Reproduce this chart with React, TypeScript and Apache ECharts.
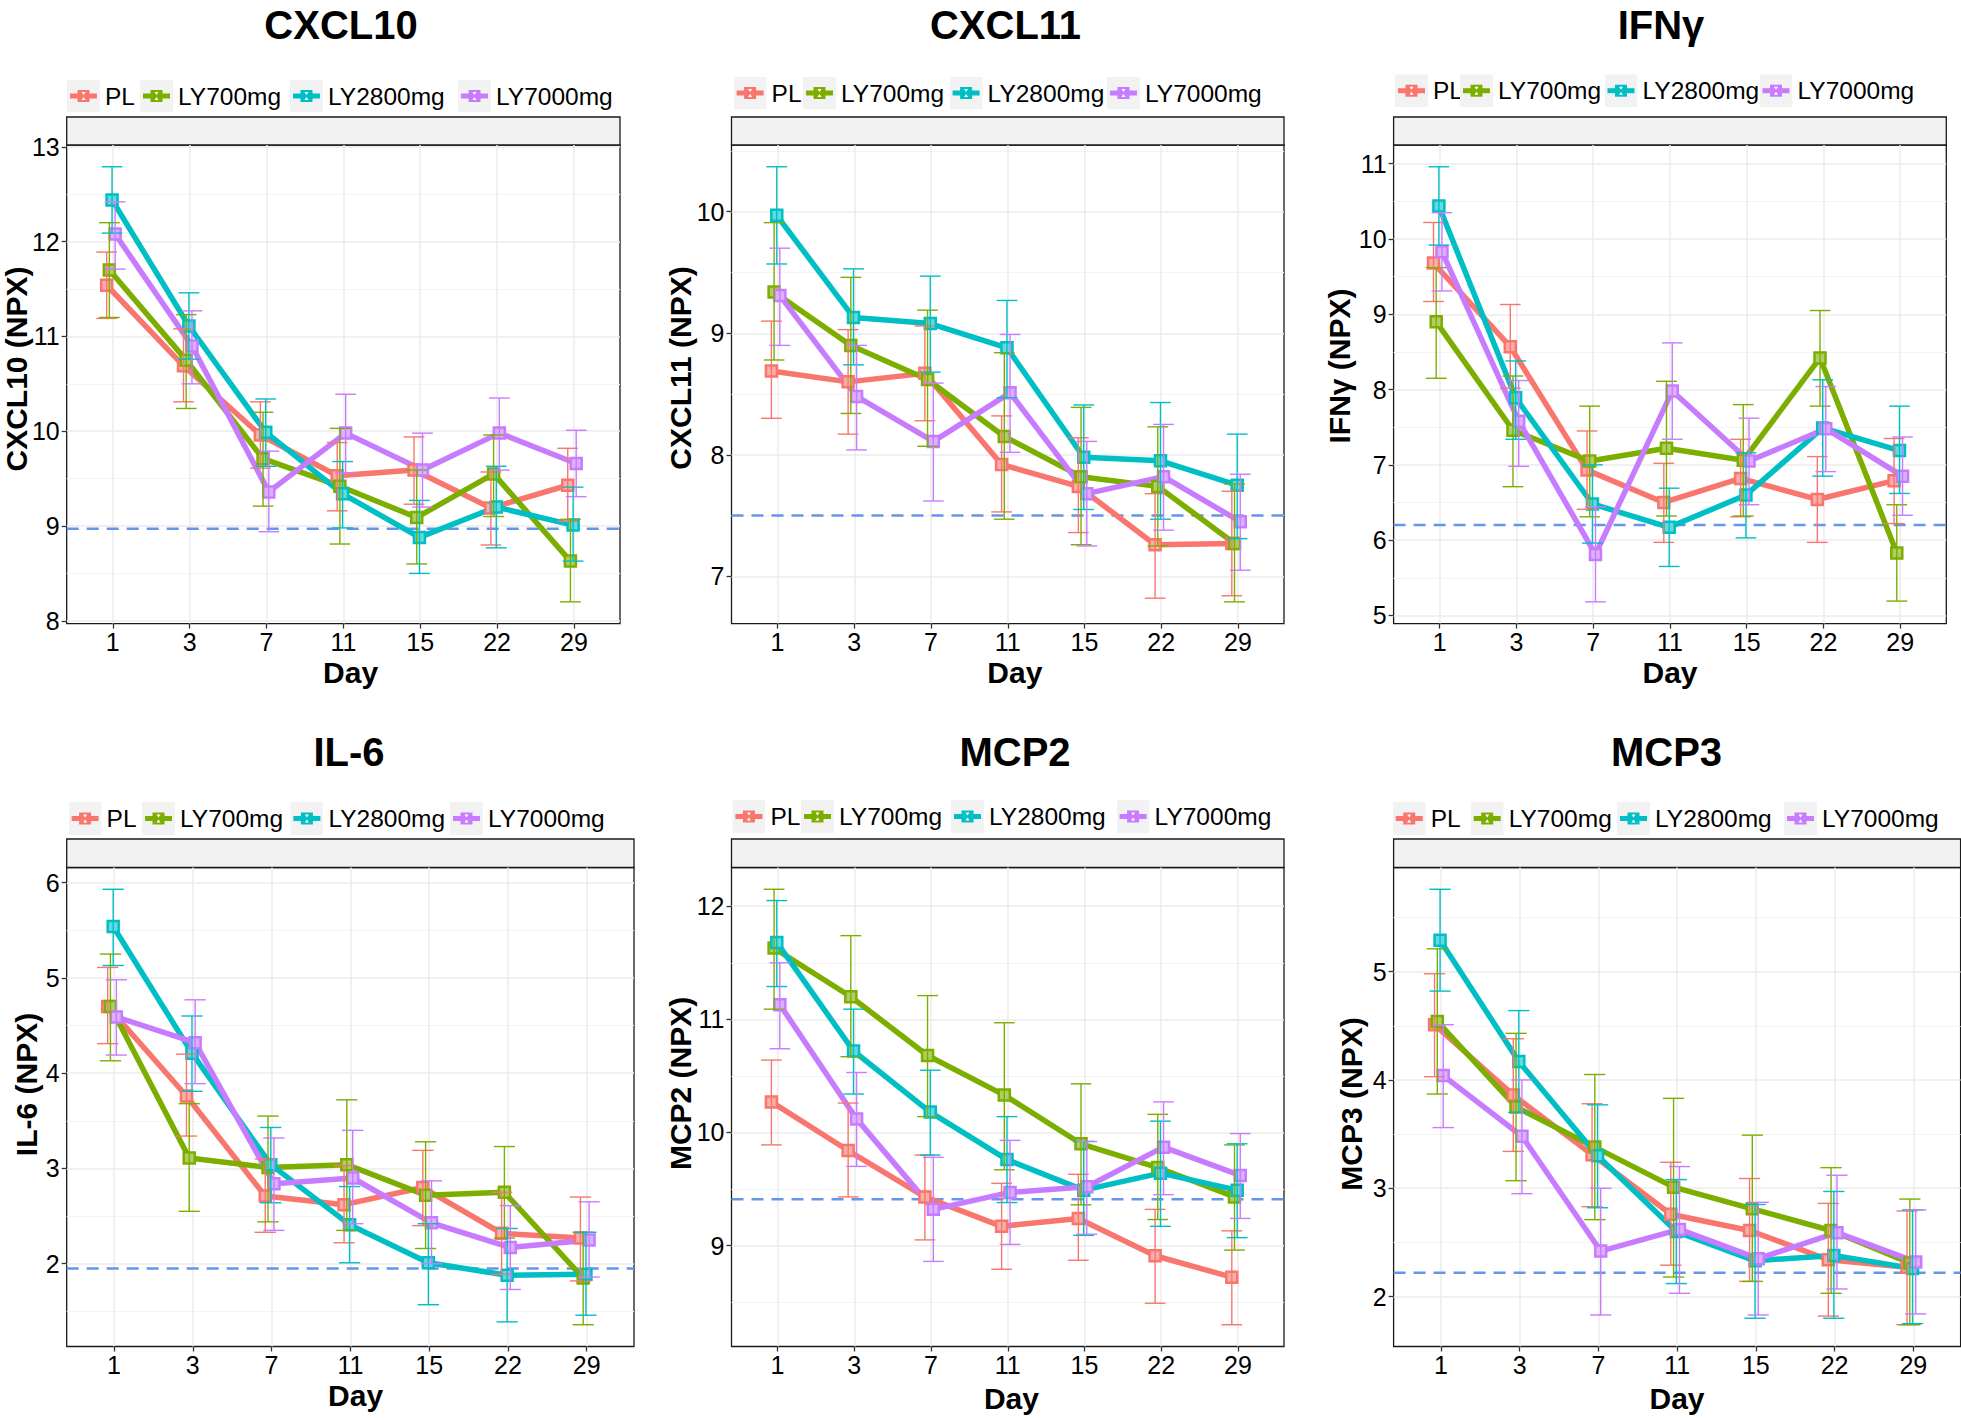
import React, { useEffect, useRef } from 'react';
import * as echarts from 'echarts';

// ---------- data ----------
const days = ['1', '3', '7', '11', '15', '22', '29'];
const groups = ['PL', 'LY700mg', 'LY2800mg', 'LY7000mg'];
const groupColors = ['#F8766D', '#7CAE00', '#00BFC4', '#C77CFF'];
const panelTitles = ['CXCL10', 'CXCL11', 'IFNγ', 'IL-6', 'MCP2', 'MCP3'];
const yAxisTitles = ['CXCL10 (NPX)', 'CXCL11 (NPX)', 'IFNγ (NPX)', 'IL-6 (NPX)', 'MCP2 (NPX)', 'MCP3 (NPX)'];
const xAxisTitle = 'Day';
const refLines = [8.97, 7.5, 6.2, 1.95, 9.41, 2.22];

// rows: PL, LY700mg, LY2800mg, LY7000mg ; columns: days
const cxcl10Mean = [
  [11.54, 10.69, 9.96, 9.53, 9.59, 9.19, 9.43],
  [11.70, 10.75, 9.71, 9.42, 9.09, 9.55, 8.63],
  [12.44, 11.11, 9.99, 9.34, 8.88, 9.20, 9.01],
  [12.08, 10.90, 9.36, 9.98, 9.59, 9.98, 9.66],
];
const cxcl10Low = [
  [11.19, 10.31, 9.61, 9.16, 9.23, 8.80, 9.05],
  [11.20, 10.24, 9.21, 8.81, 8.60, 9.10, 8.20],
  [12.09, 10.76, 9.63, 8.98, 8.50, 8.77, 8.63],
  [11.71, 10.50, 8.94, 9.56, 9.20, 9.59, 9.31],
];
const cxcl10High = [
  [11.89, 11.08, 10.31, 9.88, 9.94, 9.57, 9.82],
  [12.20, 11.23, 10.20, 10.03, 9.59, 9.96, 9.07],
  [12.79, 11.46, 10.34, 9.68, 9.27, 9.63, 9.41],
  [12.42, 11.27, 9.79, 10.39, 9.98, 10.35, 10.01],
];

const cxcl11Mean = [
  [8.69, 8.60, 8.67, 7.92, 7.74, 7.26, 7.27],
  [9.34, 8.90, 8.62, 8.15, 7.82, 7.74, 7.27],
  [9.97, 9.13, 9.08, 8.88, 7.98, 7.95, 7.75],
  [9.31, 8.48, 8.11, 8.51, 7.68, 7.82, 7.45],
];
const cxcl11Low = [
  [8.30, 8.17, 8.28, 7.53, 7.36, 6.82, 6.84],
  [8.78, 8.34, 8.07, 7.47, 7.26, 7.25, 6.79],
  [9.57, 8.74, 8.68, 8.47, 7.55, 7.47, 7.31],
  [8.90, 8.04, 7.62, 8.02, 7.25, 7.38, 7.05],
];
const cxcl11High = [
  [9.10, 9.03, 9.06, 8.32, 8.14, 7.68, 7.70],
  [9.91, 9.46, 9.19, 8.84, 8.39, 8.23, 7.76],
  [10.37, 9.53, 9.47, 9.27, 8.41, 8.43, 8.17],
  [9.70, 8.90, 8.59, 8.99, 8.11, 8.25, 7.84],
];

const ifngMean = [
  [9.68, 8.57, 6.93, 6.50, 6.82, 6.54, 6.79],
  [8.90, 7.46, 7.05, 7.22, 7.06, 8.42, 5.83],
  [10.44, 7.89, 6.48, 6.17, 6.60, 7.49, 7.19],
  [9.83, 7.58, 5.81, 7.98, 7.05, 7.48, 6.85],
];
const ifngLow = [
  [9.17, 8.02, 6.41, 5.97, 6.31, 5.97, 6.22],
  [8.15, 6.71, 6.31, 6.32, 6.32, 7.78, 5.19],
  [9.92, 7.34, 5.96, 5.65, 6.03, 6.85, 6.62],
  [9.31, 6.98, 5.18, 7.34, 6.47, 6.91, 6.33],
];
const ifngHigh = [
  [10.22, 9.13, 7.45, 7.02, 7.34, 7.11, 7.35],
  [9.62, 8.18, 7.78, 8.11, 7.80, 9.05, 6.47],
  [10.96, 8.38, 7.00, 6.69, 7.16, 8.13, 7.78],
  [10.35, 8.12, 6.44, 8.62, 7.62, 8.04, 7.37],
];

const il6Mean = [
  [4.70, 3.76, 2.71, 2.62, 2.80, 2.32, 2.27],
  [4.70, 3.11, 3.01, 3.04, 2.72, 2.75, 1.85],
  [5.54, 4.21, 3.04, 2.41, 2.01, 1.88, 1.89],
  [4.59, 4.32, 2.84, 2.90, 2.43, 2.17, 2.25],
];
const il6Low = [
  [4.31, 3.34, 2.33, 2.22, 2.40, 1.89, 1.82],
  [4.13, 2.55, 2.44, 2.35, 2.16, 2.27, 1.36],
  [5.13, 3.81, 2.64, 2.01, 1.57, 1.39, 1.46],
  [4.19, 3.89, 2.35, 2.42, 2.00, 1.73, 1.86],
];
const il6High = [
  [5.11, 4.20, 3.10, 3.03, 3.19, 2.75, 2.70],
  [5.25, 3.68, 3.55, 3.72, 3.28, 3.23, 2.33],
  [5.93, 4.60, 3.43, 2.81, 2.42, 2.37, 2.33],
  [4.98, 4.77, 3.32, 3.40, 2.87, 2.61, 2.65],
];

const mcp2Mean = [
  [10.27, 9.84, 9.43, 9.17, 9.24, 8.91, 8.72],
  [11.63, 11.20, 10.68, 10.33, 9.90, 9.69, 9.43],
  [11.68, 10.72, 10.18, 9.76, 9.49, 9.64, 9.49],
  [11.13, 10.12, 9.32, 9.47, 9.52, 9.87, 9.62],
];
const mcp2Low = [
  [9.89, 9.43, 9.05, 8.79, 8.87, 8.49, 8.30],
  [11.09, 10.67, 10.14, 9.67, 9.36, 9.23, 8.96],
  [11.29, 10.34, 9.80, 9.38, 9.09, 9.17, 9.07],
  [10.74, 9.70, 8.86, 9.01, 9.10, 9.45, 9.24],
];
const mcp2High = [
  [10.64, 10.26, 9.80, 9.55, 9.63, 9.32, 9.13],
  [12.15, 11.74, 11.21, 10.97, 10.43, 10.16, 9.89],
  [12.05, 11.09, 10.55, 10.14, 9.92, 10.10, 9.90],
  [11.50, 10.53, 9.78, 9.93, 9.92, 10.27, 9.99],
];

const mcp3Mean = [
  [4.51, 3.86, 3.31, 2.76, 2.61, 2.34, 2.27],
  [4.54, 3.75, 3.38, 3.01, 2.81, 2.61, 2.31],
  [5.29, 4.17, 3.30, 2.60, 2.33, 2.38, 2.26],
  [4.04, 3.48, 2.42, 2.62, 2.35, 2.59, 2.32],
];
const mcp3Low = [
  [4.03, 3.34, 2.83, 2.29, 2.14, 1.82, 1.74],
  [3.87, 3.07, 2.71, 2.18, 2.14, 2.03, 1.74],
  [4.82, 3.70, 2.82, 2.12, 1.80, 1.80, 1.75],
  [3.56, 2.95, 1.83, 2.03, 1.83, 2.07, 1.84],
];
const mcp3High = [
  [4.98, 4.38, 3.78, 3.24, 3.09, 2.86, 2.79],
  [5.21, 4.43, 4.05, 3.83, 3.49, 3.19, 2.90],
  [5.76, 4.64, 3.77, 3.08, 2.85, 2.97, 2.80],
  [4.51, 4.00, 3.00, 3.20, 2.87, 3.12, 2.80],
];

const panelMeans = [cxcl10Mean, cxcl11Mean, ifngMean, il6Mean, mcp2Mean, mcp3Mean];
const panelLows = [cxcl10Low, cxcl11Low, ifngLow, il6Low, mcp2Low, mcp3Low];
const panelHighs = [cxcl10High, cxcl11High, ifngHigh, il6High, mcp2High, mcp3High];

// ---------- layout / style ----------
const FONT = "'Liberation Sans', Arial, Helvetica, sans-serif";
const dodge = [-0.08, -0.045, -0.01, 0.03];
const capWidth = 0.27;
const xMin = -0.6;
const xMax = 6.6;

const layouts = [
  { left: 66.7, top: 145, width: 553.3, height: 478.6, stripTop: 117, titleX: 341, titleY: 24.5, legendY: 96, legendX: [67, 140, 290, 458], yTitleX: 16, yTitleY: 369, xTitleX: 350.6, xTitleY: 672 },
  { left: 731.5, top: 145, width: 552.5, height: 478.6, stripTop: 117, titleX: 1005.5, titleY: 24.5, legendY: 93, legendX: [733.6, 803, 949.6, 1107], yTitleX: 680.5, yTitleY: 368, xTitleX: 1014.8, xTitleY: 672 },
  { left: 1393.6, top: 145, width: 552.7, height: 478.6, stripTop: 117, titleX: 1661, titleY: 24.5, legendY: 90.7, legendX: [1395, 1460, 1604.5, 1759.5], yTitleX: 1339, yTitleY: 366, xTitleX: 1670, xTitleY: 672 },
  { left: 66.7, top: 867.5, width: 567.3, height: 479, stripTop: 839, titleX: 349, titleY: 752.3, legendY: 818.5, legendX: [68.6, 142, 290.4, 450], yTitleX: 26.4, yTitleY: 1084.5, xTitleX: 355.6, xTitleY: 1395.6 },
  { left: 731.5, top: 867.5, width: 552.5, height: 479, stripTop: 839, titleX: 1015, titleY: 752.3, legendY: 816.5, legendX: [732.4, 801, 951, 1116.6], yTitleX: 680.5, yTitleY: 1083.4, xTitleX: 1011.4, xTitleY: 1398.8 },
  { left: 1393.6, top: 867.5, width: 567, height: 479, stripTop: 839, titleX: 1666.5, titleY: 752.3, legendY: 818.5, legendX: [1392.7, 1470.7, 1617, 1784], yTitleX: 1351.6, yTitleY: 1104, xTitleX: 1677, xTitleY: 1398 },
];

function tint(hex: string, t: number) {
  const n = parseInt(hex.slice(1), 16);
  const r = (n >> 16) & 255, g = (n >> 8) & 255, b = n & 255;
  const m = (c: number) => Math.round(c + (255 - c) * t);
  return `rgb(${m(r)},${m(g)},${m(b)})`;
}

function legendIcon(c: string) {
  const svg = `<svg xmlns="http://www.w3.org/2000/svg" width="33" height="33" viewBox="0 0 33 33"><rect width="33" height="33" fill="#F2F2F2"/><rect x="3" y="14" width="27" height="5" fill="${c}"/><rect x="10.5" y="10.5" width="12" height="12" fill="${c}"/><polygon points="14.5,12.5 18.5,12.5 16.5,15.5" fill="#ffffff"/><polygon points="14.5,20.5 18.5,20.5 16.5,17.5" fill="#ffffff"/></svg>`;
  return 'image://data:image/svg+xml;charset=utf-8,' + encodeURIComponent(svg);
}

function errRender(color: string) {
  return (params: any, api: any) => {
    const x = api.value(0);
    const lo = api.value(1);
    const hi = api.value(2);
    const a = api.coord([x, hi]);
    const b = api.coord([x, lo]);
    const hw = api.size([capWidth, 0])[0] / 2;
    const st = { stroke: color, lineWidth: 1.4, fill: 'none' };
    return {
      type: 'group',
      children: [
        { type: 'line', shape: { x1: a[0], y1: a[1], x2: b[0], y2: b[1] }, style: st },
        { type: 'line', shape: { x1: a[0] - hw, y1: a[1], x2: a[0] + hw, y2: a[1] }, style: st },
        { type: 'line', shape: { x1: b[0] - hw, y1: b[1], x2: b[0] + hw, y2: b[1] }, style: st },
      ],
    };
  };
}

function buildOption() {
  const grid: any[] = [];
  const xAxis: any[] = [];
  const yAxis: any[] = [];
  const series: any[] = [];
  const legend: any[] = [];
  const graphic: any[] = [];
  const xTicks = days.map((_, i) => i);

  panelTitles.forEach((title, pi) => {
    const L = layouts[pi];
    const lows = panelLows[pi].flat();
    const highs = panelHighs[pi].flat();
    const lo = Math.min(...lows);
    const hi = Math.max(...highs);
    const pad = (hi - lo) * 0.05;
    const yMin = lo - pad;
    const yMax = hi + pad;
    const yTicks: number[] = [];
    for (let v = Math.ceil(yMin); v <= Math.floor(yMax); v++) yTicks.push(v);

    grid.push({
      left: L.left, top: L.top, width: L.width, height: L.height,
      show: true, borderColor: '#1a1a1a', borderWidth: 1.3, backgroundColor: 'rgba(0,0,0,0)',
      containLabel: false, outerBoundsMode: 'none',
    });

    xAxis.push({
      type: 'value', gridIndex: pi, min: xMin, max: xMax, minInterval: 1, maxInterval: 1,
      position: 'bottom',
      axisLine: { show: false, onZero: false },
      axisTick: { show: true, length: 5, lineStyle: { color: '#333', width: 1.3 }, customValues: xTicks },
      axisLabel: {
        customValues: xTicks, margin: 6, fontSize: 25, color: '#000', fontFamily: FONT,
        formatter: (v: number) => (Number.isInteger(v) && v >= 0 && v < days.length ? days[v] : ''),
      },
      splitLine: { show: true, lineStyle: { color: '#EBEBEB', width: 1.5 } },
    });

    yAxis.push({
      type: 'value', gridIndex: pi, min: yMin, max: yMax, minInterval: 1, maxInterval: 1,
      position: 'left',
      axisLine: { show: false, onZero: false },
      axisTick: { show: true, length: 5, lineStyle: { color: '#333', width: 1.3 }, customValues: yTicks },
      axisLabel: {
        customValues: yTicks, margin: 7, fontSize: 25, color: '#000', fontFamily: FONT,
        formatter: (v: number) => (Number.isInteger(v) ? String(v) : ''),
      },
      splitLine: { show: true, lineStyle: { color: '#EBEBEB', width: 1.5 } },
      minorTick: { show: false, splitNumber: 2 },
      minorSplitLine: { show: true, lineStyle: { color: '#F4F4F4', width: 1 } },
    });

    // reference dashed line
    series.push({
      type: 'line', name: 'reference', xAxisIndex: pi, yAxisIndex: pi,
      data: [[xMin, refLines[pi]], [xMax, refLines[pi]]],
      symbol: 'none', silent: true, z: 1,
      lineStyle: { color: '#6495ED', width: 2.5, type: [12, 8] },
    });

    groups.forEach((g, gi) => {
      const color = groupColors[gi];
      series.push({
        type: 'line', name: g, xAxisIndex: pi, yAxisIndex: pi,
        data: panelMeans[pi][gi].map((v, d) => [d + dodge[gi], v]),
        symbol: 'rect', symbolSize: 11, showSymbol: true, silent: true, z: 3,
        lineStyle: { color, width: 5.5 },
        itemStyle: { color: tint(color, 0.4), borderColor: color, borderWidth: 2.5 },
      });
      series.push({
        type: 'custom', name: g, xAxisIndex: pi, yAxisIndex: pi, z: 4, silent: true,
        data: panelLows[pi][gi].map((l, d) => [d + dodge[gi], l, panelHighs[pi][gi][d]]),
        encode: { x: 0, y: [1, 2] },
        renderItem: errRender(color),
      });
      legend.push({
        data: [{ name: g, icon: legendIcon(color) }],
        left: L.legendX[gi], top: L.legendY - 16.5,
        orient: 'horizontal', padding: 0, itemWidth: 33, itemHeight: 33, itemGap: 0,
        selectedMode: false,
        textStyle: { fontSize: 24.5, color: '#000', fontFamily: FONT },
      });
    });

    // strip
    graphic.push({
      type: 'rect', shape: { x: L.left, y: L.stripTop, width: L.width, height: L.top - L.stripTop },
      style: { fill: '#F2F2F2', stroke: '#1a1a1a', lineWidth: 1.3 }, silent: true,
    });
    // panel title
    graphic.push({
      type: 'text', x: L.titleX, y: L.titleY, silent: true,
      style: { text: title, fontSize: 40, fontWeight: 'bold', fontFamily: FONT, fill: '#000', align: 'center', verticalAlign: 'middle' },
    });
    // y axis title
    graphic.push({
      type: 'text', x: L.yTitleX, y: L.yTitleY, rotation: Math.PI / 2, silent: true,
      style: { text: yAxisTitles[pi], fontSize: 30, fontWeight: 'bold', fontFamily: FONT, fill: '#000', align: 'center', verticalAlign: 'middle' },
    });
    // x axis title
    graphic.push({
      type: 'text', x: L.xTitleX, y: L.xTitleY, silent: true,
      style: { text: xAxisTitle, fontSize: 30, fontWeight: 'bold', fontFamily: FONT, fill: '#000', align: 'center', verticalAlign: 'middle' },
    });
  });

  return {
    animation: false,
    backgroundColor: '#ffffff',
    textStyle: { fontFamily: FONT },
    grid, xAxis, yAxis, series, legend, graphic,
  };
}

export default function App() {
  const ref = useRef<HTMLDivElement>(null);
  useEffect(() => {
    if (!ref.current) return;
    const chart = echarts.init(ref.current, undefined, { renderer: 'svg' });
    chart.setOption(buildOption() as any);
    return () => chart.dispose();
  }, []);
  return (
    <div
      ref={ref}
      style={{ position: 'fixed', left: 0, top: 0, width: '1961px', height: '1420px', background: '#fff' }}
    />
  );
}
